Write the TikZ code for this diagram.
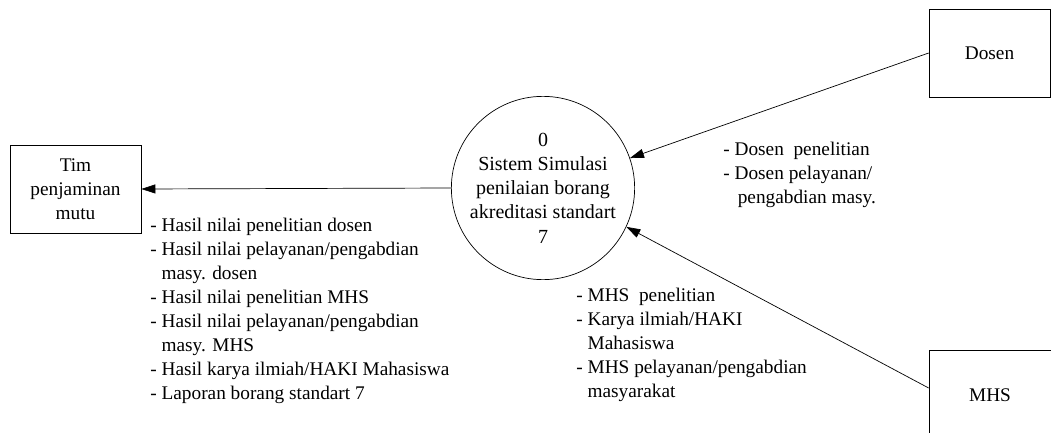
\documentclass[tikz,border=0pt]{standalone}
\usepackage{fontspec}
\setmainfont{Liberation Serif}
\usetikzlibrary{arrows.meta}

\begin{document}
\begin{tikzpicture}[x=1pt, y=-1pt, line width=0.7pt,
    every node/.style={font=\fontsize{19.3}{24}\selectfont},
    entity/.style={draw, rectangle, align=center, inner sep=0pt},
    process/.style={draw, circle, align=center, inner sep=0pt, minimum size=152pt,
      font=\fontsize{20}{24.3}\selectfont},
    flowtext/.style={align=left, inner sep=0pt, anchor=north west},
    flow/.style={-{Triangle[length=14pt, width=9pt]}}]
    \useasboundingbox (0,0) rectangle (1051,433);
    \clip (0,0) rectangle (1051,433);

    \node (sistem) at (543,188) [process] {0\\Sistem Simulasi\\penilaian borang\\akreditasi standart\\7};

    \node (tim) at (75.5,189) [entity, minimum width=131pt, minimum height=88pt] {Tim\\penjaminan\\mutu};
    \draw[flow] (sistem.west) -- (tim.east);

    \node (dosen) at (989.5,53) [entity, minimum width=121pt, minimum height=88pt] {Dosen};
    \draw[flow] (dosen.west) -- (sistem.19);

    \node (mhs) at (990,395) [entity, minimum width=122pt, minimum height=89pt] {MHS};
    \draw[flow] ([yshift=7pt]mhs.west) -- (sistem.-25);

    \node (hasil) at (150,218) [flowtext] {- Hasil nilai penelitian dosen\\
      - Hasil nilai pelayanan/pengabdian\\
      \phantom{- }masy. dosen\\
      - Hasil nilai penelitian MHS\\
      - Hasil nilai pelayanan/pengabdian\\
      \phantom{- }masy. MHS\\
      - Hasil karya ilmiah/HAKI Mahasiswa\\
      - Laporan borang standart 7};

    \node (dosentext) at (723,142) [flowtext] {- Dosen~ penelitian\\
      - Dosen pelayanan/\\
      \phantom{- }\,pengabdian masy.};

    \node (mhstext) at (576,288) [flowtext] {- MHS~ penelitian\\
      - Karya ilmiah/HAKI\\
      \phantom{- }Mahasiswa\\
      - MHS pelayanan/pengabdian\\
      \phantom{- }masyarakat};
\end{tikzpicture}
\end{document}
